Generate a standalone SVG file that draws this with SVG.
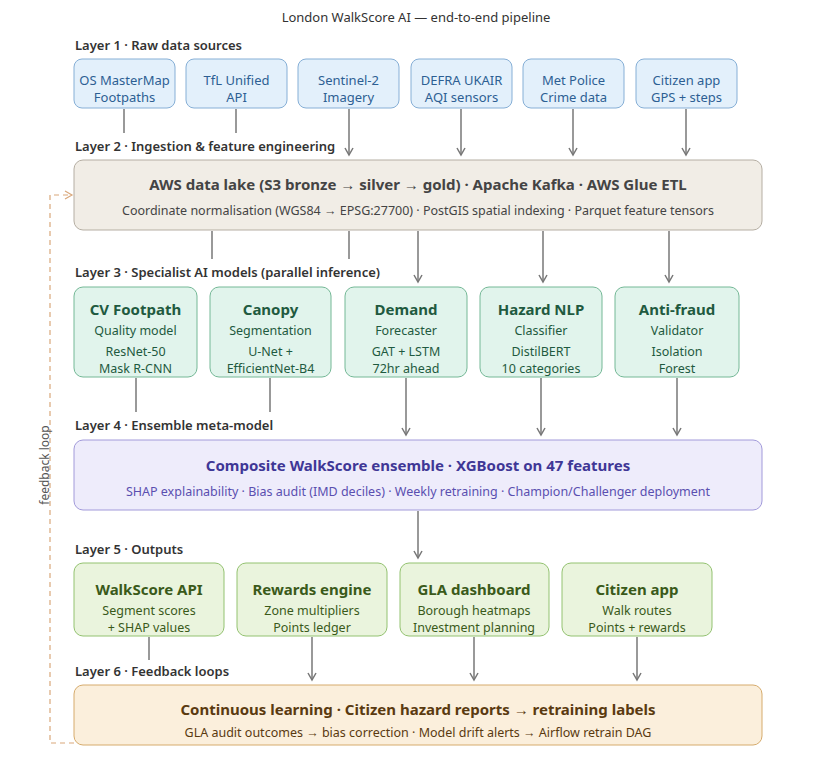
<svg xmlns="http://www.w3.org/2000/svg" width="833" height="764" viewBox="0 0 833 764">
<style>
text{font-family:"Segoe UI","Noto Sans","Open Sans",sans-serif;text-anchor:middle}
.lay{text-anchor:start;font-size:13px;font-weight:600;fill:#333}
.t{font-size:15px;font-weight:700}
.s{font-size:12.5px}
.b1 rect{fill:#e3f0fb;stroke:#86afd6}
.b1 text{fill:#2d5f93;font-size:13px}
.b2 rect{fill:#f1ede6;stroke:#b5aea3}
.b2 text{fill:#444}
.b3 rect{fill:#e1f4ec;stroke:#74b896}
.b3 text{fill:#1f5a40}
.b4 rect{fill:#eeecfb;stroke:#a29ada}
.b4 text{fill:#3f3796}
.b5 rect{fill:#eaf4dd;stroke:#93c270}
.b5 text{fill:#3a5a1a}
.b6 rect{fill:#fbefdc;stroke:#d6ab6c}
.b6 text{fill:#5a3a10}
.c line{stroke:#777;stroke-width:1.5}
</style>
<defs><marker id="a" markerWidth="10" markerHeight="10" refX="8" refY="5" orient="auto" markerUnits="userSpaceOnUse"><path d="M1,1L8,5L1,9" fill="none" stroke="#777" stroke-width="1.5"/></marker>
<marker id="f" markerWidth="10" markerHeight="10" refX="8" refY="5" orient="auto" markerUnits="userSpaceOnUse"><path d="M1,1L8,5L1,9" fill="none" stroke="#d9a77a" stroke-width="1.2"/></marker></defs>
<rect width="833" height="764" fill="#fff"/>
<text x="416" y="22" font-size="13" fill="#333">London WalkScore AI — end-to-end pipeline</text>
<text class="lay" x="75" y="50">Layer 1 · Raw data sources</text>
<text class="lay" x="75" y="151">Layer 2 · Ingestion &amp; feature engineering</text>
<text class="lay" x="75" y="277">Layer 3 · Specialist AI models (parallel inference)</text>
<text class="lay" x="75" y="430">Layer 4 · Ensemble meta-model</text>
<text class="lay" x="75" y="554">Layer 5 · Outputs</text>
<text class="lay" x="75" y="676">Layer 6 · Feedback loops</text>
<g class="c">
<line x1="124" y1="109" x2="124" y2="133"/><line x1="236" y1="109" x2="236" y2="133"/>
<line x1="349" y1="109" x2="349" y2="155" marker-end="url(#a)"/><line x1="461" y1="109" x2="461" y2="155" marker-end="url(#a)"/>
<line x1="573" y1="109" x2="573" y2="155" marker-end="url(#a)"/><line x1="686" y1="109" x2="686" y2="155" marker-end="url(#a)"/>
<line x1="212" y1="231" x2="212" y2="259"/><line x1="349" y1="231" x2="349" y2="259"/>
<line x1="418" y1="231" x2="418" y2="282" marker-end="url(#a)"/><line x1="543" y1="231" x2="543" y2="282" marker-end="url(#a)"/><line x1="669" y1="231" x2="669" y2="282" marker-end="url(#a)"/>
<line x1="136" y1="378" x2="136" y2="412"/><line x1="270" y1="378" x2="270" y2="412"/>
<line x1="406" y1="378" x2="406" y2="435" marker-end="url(#a)"/><line x1="541" y1="378" x2="541" y2="435" marker-end="url(#a)"/><line x1="677" y1="378" x2="677" y2="435" marker-end="url(#a)"/>
<line x1="418" y1="511" x2="418" y2="558" marker-end="url(#a)"/>
<line x1="149" y1="637" x2="149" y2="660"/>
<line x1="312" y1="637" x2="312" y2="680" marker-end="url(#a)"/><line x1="474" y1="637" x2="474" y2="680" marker-end="url(#a)"/><line x1="637" y1="637" x2="637" y2="680" marker-end="url(#a)"/>
<path d="M74,743H50V195H72" fill="none" stroke="#d9a77a" stroke-width="1.2" stroke-dasharray="5,4" marker-end="url(#f)"/>
</g>
<text transform="translate(49,465) rotate(-90)" font-size="12" fill="#555" style="fill:#555">feedback loop</text>
<g id="l1" class="b1">
<rect x="74" y="59" width="101" height="49" rx="8"/><text x="124.5" y="85">OS MasterMap</text><text x="124.5" y="102">Footpaths</text>
<rect x="186" y="59" width="101" height="49" rx="8"/><text x="236.5" y="85">TfL Unified</text><text x="236.5" y="102">API</text>
<rect x="298" y="59" width="101" height="49" rx="8"/><text x="348.5" y="85">Sentinel-2</text><text x="348.5" y="102">Imagery</text>
<rect x="411" y="59" width="101" height="49" rx="8"/><text x="461.5" y="85">DEFRA UKAIR</text><text x="461.5" y="102">AQI sensors</text>
<rect x="523" y="59" width="101" height="49" rx="8"/><text x="573.5" y="85">Met Police</text><text x="573.5" y="102">Crime data</text>
<rect x="636" y="59" width="101" height="49" rx="8"/><text x="686.5" y="85">Citizen app</text><text x="686.5" y="102">GPS + steps</text>
</g>
<g id="l2" class="b2"><rect x="74" y="160" width="688" height="70" rx="9"/>
<text class="t" x="418" y="190">AWS data lake (S3 bronze → silver → gold) · Apache Kafka · AWS Glue ETL</text>
<text class="s" x="418" y="215">Coordinate normalisation (WGS84 → EPSG:27700) · PostGIS spatial indexing · Parquet feature tensors</text></g>
<g id="l3" class="b3">
<rect x="74" y="287" width="123" height="90" rx="9"/><text class="t" x="135.5" y="315">CV Footpath</text><text class="s" x="135.5" y="335">Quality model</text><text class="s" x="135.5" y="356">ResNet-50</text><text class="s" x="135.5" y="373">Mask R-CNN</text>
<rect x="210" y="287" width="121" height="90" rx="9"/><text class="t" x="270.5" y="315">Canopy</text><text class="s" x="270.5" y="335">Segmentation</text><text class="s" x="270.5" y="356">U-Net +</text><text class="s" x="270.5" y="373">EfficientNet-B4</text>
<rect x="345" y="287" width="122" height="90" rx="9"/><text class="t" x="406" y="315">Demand</text><text class="s" x="406" y="335">Forecaster</text><text class="s" x="406" y="356">GAT + LSTM</text><text class="s" x="406" y="373">72hr ahead</text>
<rect x="480" y="287" width="122" height="90" rx="9"/><text class="t" x="541" y="315">Hazard NLP</text><text class="s" x="541" y="335">Classifier</text><text class="s" x="541" y="356">DistilBERT</text><text class="s" x="541" y="373">10 categories</text>
<rect x="615" y="287" width="124" height="90" rx="9"/><text class="t" x="677" y="315">Anti-fraud</text><text class="s" x="677" y="335">Validator</text><text class="s" x="677" y="356">Isolation</text><text class="s" x="677" y="373">Forest</text>
</g>
<g id="l4" class="b4"><rect x="74" y="440" width="688" height="70" rx="9"/>
<text class="t" x="418" y="471">Composite WalkScore ensemble · XGBoost on 47 features</text>
<text class="s" x="418" y="496" style="fill:#5a4fb0">SHAP explainability · Bias audit (IMD deciles) · Weekly retraining · Champion/Challenger deployment</text></g>
<g id="l5" class="b5">
<rect x="74" y="563" width="150" height="73" rx="9"/><text class="t" x="149" y="595">WalkScore API</text><text class="s" x="149" y="615">Segment scores</text><text class="s" x="149" y="632">+ SHAP values</text>
<rect x="237" y="563" width="150" height="73" rx="9"/><text class="t" x="312" y="595">Rewards engine</text><text class="s" x="312" y="615">Zone multipliers</text><text class="s" x="312" y="632">Points ledger</text>
<rect x="400" y="563" width="149" height="73" rx="9"/><text class="t" x="474" y="595">GLA dashboard</text><text class="s" x="474" y="615">Borough heatmaps</text><text class="s" x="474" y="632">Investment planning</text>
<rect x="562" y="563" width="150" height="73" rx="9"/><text class="t" x="637" y="595">Citizen app</text><text class="s" x="637" y="615">Walk routes</text><text class="s" x="637" y="632">Points + rewards</text>
</g>
<g id="l6" class="b6"><rect x="74" y="685" width="688" height="60" rx="9"/>
<text class="t" x="418" y="715">Continuous learning · Citizen hazard reports → retraining labels</text>
<text class="s" x="418" y="737">GLA audit outcomes → bias correction · Model drift alerts → Airflow retrain DAG</text></g>
</svg>
